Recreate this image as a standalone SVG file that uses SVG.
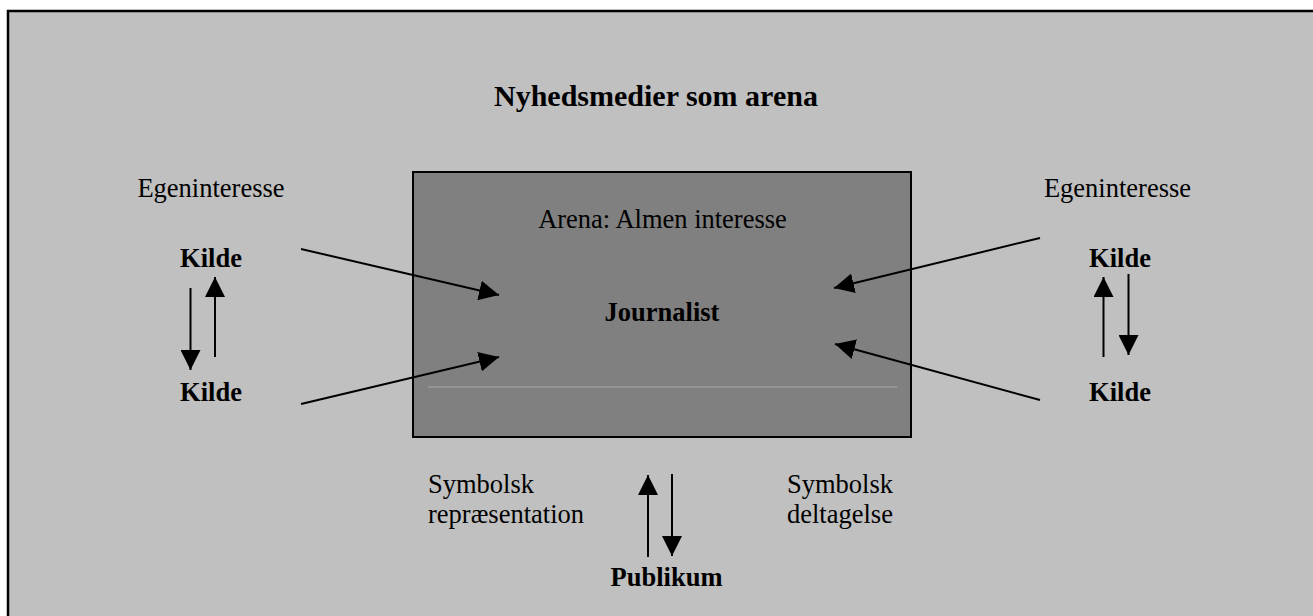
<svg xmlns="http://www.w3.org/2000/svg" width="1313" height="616" viewBox="0 0 1313 616">
<defs>
<style>
text{font-family:"Liberation Serif","Times New Roman",serif;fill:#000}
.r{font-size:26.5px}
.b{font-size:26.5px;font-weight:bold}
.t{font-size:30px;font-weight:bold}
.c{stroke:#000;stroke-width:2;fill:none}
</style>
<marker id="ah" viewBox="0 0 20 20" refX="20" refY="10" markerWidth="20" markerHeight="20" markerUnits="userSpaceOnUse" orient="auto">
<path d="M0,0 L20,10 L0,20 Z" fill="#000"/>
</marker>
</defs>
<rect x="0" y="0" width="1313" height="616" fill="#fff"/>
<rect id="frame" x="8" y="11" width="1320" height="620" fill="#c0c0c0" stroke="#000" stroke-width="2.5"/>
<text class="t" x="494" y="106">Nyhedsmedier som arena</text>
<g id="arena">
<rect x="413" y="172" width="498" height="265" fill="#808080" stroke="#000" stroke-width="2"/>
<line x1="428" y1="387" x2="897" y2="387" stroke="#a8a8a8" stroke-width="1"/>
<text class="r" x="662.5" y="228" text-anchor="middle">Arena: Almen interesse</text>
</g>
<g id="journalist"><text class="b" x="662" y="321" text-anchor="middle">Journalist</text></g>
<g id="ego-left"><text class="r" x="211" y="197" text-anchor="middle">Egeninteresse</text></g>
<g id="ego-right"><text class="r" x="1117.5" y="197" text-anchor="middle">Egeninteresse</text></g>
<g id="kilde-l1"><text class="b" x="211" y="267" text-anchor="middle">Kilde</text></g>
<g id="kilde-l2"><text class="b" x="211" y="401" text-anchor="middle">Kilde</text></g>
<g id="kilde-r1"><text class="b" x="1120" y="267" text-anchor="middle">Kilde</text></g>
<g id="kilde-r2"><text class="b" x="1120" y="401" text-anchor="middle">Kilde</text></g>
<g id="sym-rep"><text class="r" x="428" y="493">Symbolsk</text><text class="r" x="428" y="523">repræsentation</text></g>
<g id="sym-del"><text class="r" x="787" y="493">Symbolsk</text><text class="r" x="787" y="523">deltagelse</text></g>
<g id="publikum"><text class="b" x="666.5" y="586" text-anchor="middle">Publikum</text></g>
<g id="connectors" class="c">
<line class="c" x1="301" y1="249" x2="499" y2="295" marker-end="url(#ah)"/>
<line class="c" x1="301" y1="404" x2="499" y2="357" marker-end="url(#ah)"/>
<line class="c" x1="1040" y1="238" x2="834" y2="288" marker-end="url(#ah)"/>
<line class="c" x1="1040" y1="400" x2="835" y2="344" marker-end="url(#ah)"/>
<line class="c" x1="190.5" y1="288" x2="190.5" y2="370" marker-end="url(#ah)"/>
<line class="c" x1="215" y1="357" x2="215" y2="277" marker-end="url(#ah)"/>
<line class="c" x1="1103.5" y1="357" x2="1103.5" y2="277" marker-end="url(#ah)"/>
<line class="c" x1="1128.5" y1="274" x2="1128.5" y2="355" marker-end="url(#ah)"/>
<line class="c" x1="648" y1="557" x2="648" y2="475" marker-end="url(#ah)"/>
<line class="c" x1="672" y1="474" x2="672" y2="556" marker-end="url(#ah)"/>
</g>
</svg>
